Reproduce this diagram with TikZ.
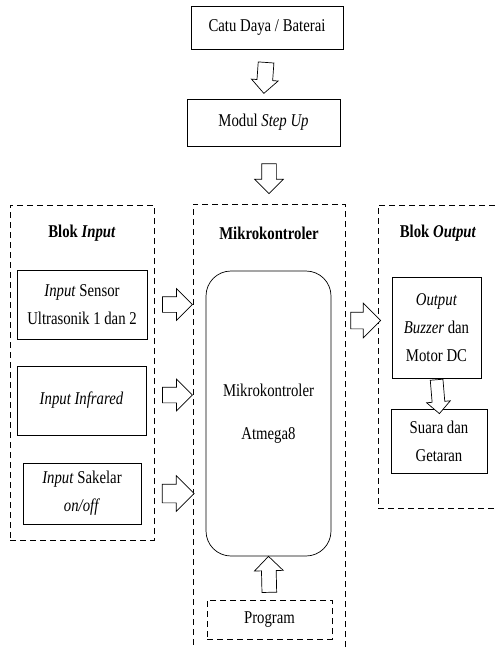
\documentclass[tikz,border=0pt]{standalone}
\usepackage{fontspec}
\setmainfont[FakeStretch=0.82]{Liberation Serif}
\usetikzlibrary{calc,shapes.arrows}
\tikzset{
  kotak/.style={draw, align=center, inner sep=2pt},
  blok/.style={draw, dash pattern=on 6pt off 4pt},
  judul/.style={font=\fontsize{18}{28}\selectfont\bfseries},
  panah/.style={single arrow, draw, fill=white, inner xsep=0pt, inner ysep=7pt, sloped, allow upside down,
                minimum height=30pt, single arrow head extend=7pt},
}

\begin{document}
\begin{tikzpicture}[x=1pt, y=-1pt, line width=0.7pt, font=\fontsize{18}{28}\selectfont]
  \useasboundingbox (0,0) rectangle (495,648);
  % power supply
  \node[kotak, minimum width=152pt, minimum height=43pt] (catu) at (267,27.5) {Catu Daya / Baterai};
  \node[kotak, minimum width=153pt, minimum height=47pt] (stepup) at (263.5,122.5) {Modul \textit{Step Up}};
  % blocks
  \node[blok, minimum width=144pt, minimum height=335pt] (inblok) at (82,372.5) {};
  \node[blok, minimum width=152pt, minimum height=461pt] (mikroblok) at (269,434.5) {};
  \node[blok, minimum width=122pt, minimum height=303pt] (outblok) at (439,356.5) {};
  \node[judul] (tin) at (82,233) {Blok \textit{Input}};
  \node[judul] (tmikro) at (269,233) {Mikrokontroler};
  \node[judul] (tout) at (438,233) {Blok \textit{Output}};
  % input
  \node[kotak, minimum width=130pt, minimum height=69pt] (in1) at (82,304.5) {\textit{Input} Sensor\\Ultrasonik 1 dan 2};
  \node[kotak, minimum width=129pt, minimum height=69pt] (in2) at (81.5,400.5) {\textit{Input Infrared}};
  \node[kotak, minimum width=118pt, minimum height=61pt] (in3) at (82,493.5) {\textit{Input} Sakelar\\\textit{on/off}};
  % controller
  \node[kotak, rounded corners=25pt, minimum width=125pt, minimum height=285pt] (atmega) at (268.5,413.5) {Mikrokontroler\\[15pt]Atmega8};
  \node[kotak, dash pattern=on 6pt off 4pt, minimum width=125pt, minimum height=39pt] (program) at (269.5,619.5) {Program};
  % output
  \node[kotak, minimum width=89pt, minimum height=101pt] (out1) at (436.5,327.5) {\textit{Output}\\\textit{Buzzer} dan\\Motor DC};
  \node[kotak, minimum width=96pt, minimum height=64pt] (out2) at (439,441) {Suara dan\\Getaran};
  % arrows
  \path (catu.south) -- node[panah, minimum height=31pt, inner ysep=7.5pt, single arrow head extend=5.5pt] (p1) {} (stepup.north);
  \path (mikroblok.north |- stepup.south) -- node[panah] (p2) {} (mikroblok.north);
  \path (inblok.east |- in1.east) -- node[panah, inner ysep=7.5pt, single arrow head extend=8pt] (p3) {} (mikroblok.west |- in1.east);
  \path ($(inblok.east |- in2.east)+(0,-5.5)$) -- node[panah, inner ysep=7.5pt, single arrow head extend=8pt] (p4) {} ($(mikroblok.west |- in2.east)+(0,-5.5)$);
  \path (inblok.east |- in3.east) -- node[panah, minimum height=32pt, inner ysep=9pt, single arrow head extend=8.5pt] (p5) {} (mikroblok.west |- in3.east);
  \path ($(mikroblok.east |- out1.west)+(0,-7)$) -- node[panah, inner ysep=8pt, single arrow head extend=9pt] (p6) {} ($(outblok.west |- out1.west)+(0,-7)$);
  \path (out1.south) -- node[panah, minimum height=34pt, inner ysep=6pt, single arrow head extend=5.5pt] (p7) {} (out2.north);
  \path (program.north) -- node[panah, minimum height=36pt] (p8) {} (atmega.south);
\end{tikzpicture}
\end{document}
